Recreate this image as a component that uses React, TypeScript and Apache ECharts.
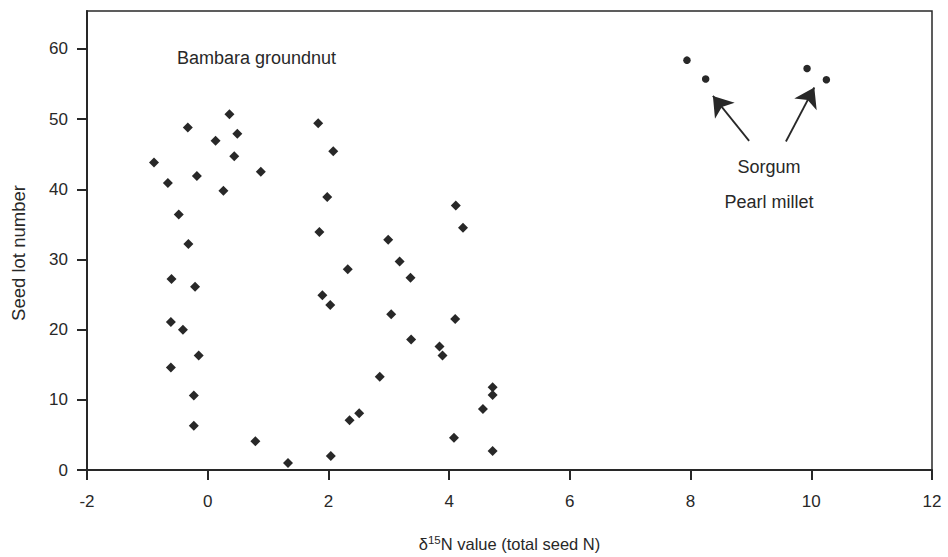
import React, { useEffect, useRef } from "react";
import * as echarts from "echarts";

// Bambara groundnut seed lots: delta15N value and seed lot number
const bambaraD15N = [
  -0.89, -0.66, -0.33, -0.18, 0.13, 0.36, 0.49, 0.44, 0.26, 0.88, 1.83,
  -0.48, -0.32, -0.6, -0.21, -0.61, -0.41, -0.15, -0.61, 1.85,
  -0.23, -0.23, 0.79, 1.33, 2.08, 1.98,
  4.11, 4.23, 2.99, 3.18, 3.36, 2.32, 1.9, 2.03, 3.04, 4.1, 3.37, 3.84, 3.89, 2.85,
  4.72, 4.72, 4.56, 2.51, 2.35, 4.08, 4.72, 2.04,
];
const bambaraLot = [
  43.8, 40.9, 48.8, 41.9, 46.9, 50.7, 47.9, 44.7, 39.8, 42.5, 49.4,
  36.4, 32.2, 27.2, 26.1, 21.1, 20.0, 16.3, 14.6, 33.9,
  10.6, 6.3, 4.1, 1.0, 45.4, 38.9,
  37.7, 34.5, 32.8, 29.7, 27.4, 28.6, 24.9, 23.5, 22.2, 21.5, 18.6, 17.6, 16.3, 13.3,
  11.8, 10.7, 8.7, 8.1, 7.1, 4.6, 2.7, 2.0,
];

// Cereals (sorgum, pearl millet)
const cerealD15N = [7.94, 8.25, 9.93, 10.25];
const cerealLot = [58.4, 55.7, 57.2, 55.6];

// Arrow annotations [fromX, fromY, toX, toY] in data units
const arrows = [
  [8.97, 46.9, 8.37, 53.3],
  [9.58, 46.8, 10.05, 54.5],
];

const xTicks = [-2, 0, 2, 4, 6, 8, 10, 12];
const yTicks = [0, 10, 20, 30, 40, 50, 60];

const FONT = "'Liberation Sans', Arial, Helvetica, sans-serif";
const INK = "#282828";

export default function App() {
  const ref = useRef<HTMLDivElement>(null);
  useEffect(() => {
    if (!ref.current) return;
    const chart = echarts.init(ref.current, null, { renderer: "svg" });
    const option: any = {
      animation: false,
      backgroundColor: "#ffffff",
      textStyle: { fontFamily: FONT },
      grid: {
        left: 87,
        right: 16,
        top: 11,
        bottom: 87,
        show: true,
        borderColor: INK,
        borderWidth: 1.5,
        backgroundColor: "transparent",
      },
      xAxis: {
        type: "value",
        min: xTicks[0],
        max: xTicks[xTicks.length - 1],
        interval: 2,
        splitLine: { show: false },
        axisLine: { show: true, onZero: false, lineStyle: { color: INK, width: 2 } },
        axisTick: { show: true, length: 10, lineStyle: { color: INK, width: 2 } },
        axisLabel: { fontSize: 17, color: INK, margin: 23, fontFamily: FONT },
        name: "δ{sup|15}N value (total seed N)",
        nameLocation: "middle",
        nameGap: 64,
        nameTextStyle: {
          fontSize: 16.5,
          color: INK,
          fontFamily: FONT,
          rich: {
            sup: { fontSize: 11.5, color: INK, fontFamily: FONT, padding: [0, 0, 7, 0] },
          },
        },
      },
      yAxis: {
        type: "value",
        min: 0,
        max: 65.4,
        splitLine: { show: false },
        axisLine: { show: true, onZero: false, lineStyle: { color: INK, width: 2 } },
        axisTick: {
          show: true,
          length: 10,
          customValues: yTicks,
          lineStyle: { color: INK, width: 2 },
        },
        axisLabel: {
          fontSize: 17,
          color: INK,
          margin: 19,
          fontFamily: FONT,
          customValues: yTicks,
        },
      },
      graphic: [
        {
          type: "text",
          x: 18,
          y: 253,
          rotation: Math.PI / 2,
          style: {
            text: "Seed lot number",
            fontSize: 18.5,
            fontFamily: FONT,
            fill: INK,
            align: "center",
            verticalAlign: "middle",
          },
        },
        {
          type: "text",
          x: 177,
          y: 58,
          style: {
            text: "Bambara groundnut",
            fontSize: 18,
            fontFamily: FONT,
            fill: INK,
            align: "left",
            verticalAlign: "middle",
          },
        },
        {
          type: "text",
          x: 769,
          y: 167,
          style: {
            text: "Sorgum",
            fontSize: 18,
            fontFamily: FONT,
            fill: INK,
            align: "center",
            verticalAlign: "middle",
          },
        },
        {
          type: "text",
          x: 769,
          y: 202,
          style: {
            text: "Pearl millet",
            fontSize: 18,
            fontFamily: FONT,
            fill: INK,
            align: "center",
            verticalAlign: "middle",
          },
        },
      ],
      series: [
        {
          name: "Bambara groundnut",
          type: "scatter",
          symbol: "diamond",
          symbolSize: 10,
          itemStyle: { color: INK, opacity: 1 },
          data: bambaraD15N.map((x, i) => [x, bambaraLot[i]]),
        },
        {
          name: "Cereals",
          type: "scatter",
          symbol: "circle",
          symbolSize: 7.5,
          itemStyle: { color: INK, opacity: 1 },
          data: cerealD15N.map((x, i) => [x, cerealLot[i]]),
          markLine: {
            silent: true,
            symbol: ["none", "arrow"],
            symbolSize: 19,
            label: { show: false },
            lineStyle: { color: INK, width: 1.8, type: "solid", opacity: 1 },
            itemStyle: { color: INK },
            emphasis: { disabled: true },
            data: arrows.map((a) => [{ coord: [a[0], a[1]] }, { coord: [a[2], a[3]] }]),
          },
        },
      ],
    };
    chart.setOption(option);
    return () => chart.dispose();
  }, []);
  return (
    <div
      ref={ref}
      style={{ position: "fixed", left: 0, top: 0, width: 948, height: 557, background: "#fff" }}
    />
  );
}
